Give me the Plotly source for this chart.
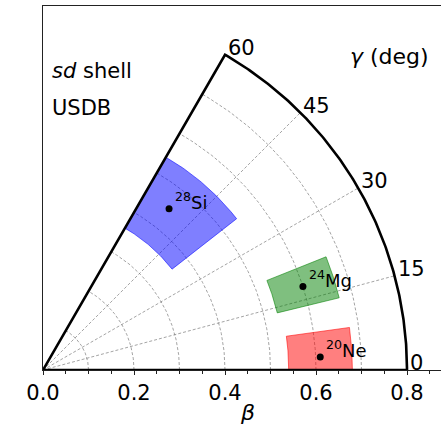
import numpy as np
import plotly.graph_objects as go

# ---- data ----
mass_numbers = ["20", "24", "28"]
symbols = ["Ne", "Mg", "Si"]
beta_mean = [0.61, 0.60, 0.45]
gamma_mean = [2.7, 17.8, 52.0]
beta_lo = [0.54, 0.53, 0.36]
beta_hi = [0.68, 0.67, 0.54]
gamma_lo = [0.0, 13.7, 38.0]
gamma_hi = [7.9, 21.8, 60.0]
region_colors = ["255,0,0", "0,128,0", "0,0,255"]

beta_grid = [0.1, 0.2, 0.3, 0.4, 0.5, 0.6, 0.7]
gamma_grid = [15, 30, 45]
gamma_ticks = [0, 15, 30, 45, 60]
beta_max = 0.8
gamma_max = 60
x_ticks = [0.0, 0.2, 0.4, 0.6, 0.8]
x_ticktext = ["0.0", "0.2", "0.4", "0.6", "0.8"]

FONT = "DejaVu Sans"
W, H = 441, 429
ML, MR, MT, MB = 43, 0, 6, 59
PW = W - ML - MR
PH = H - MT - MB
scale = PH / 0.8  # px per unit
x_max = PW / scale


def xy(b, g):
    g = np.radians(np.asarray(g, dtype=float))
    b = np.asarray(b, dtype=float)
    return b * np.cos(g), b * np.sin(g)


fig = go.Figure()

grid_line = dict(color="rgba(120,120,120,0.85)", width=0.8, dash="3px,2px")
# grid arcs
for r in beta_grid:
    gs = np.linspace(0, gamma_max, 120)
    x, y = xy(np.full_like(gs, r), gs)
    fig.add_trace(go.Scatter(x=x, y=y, mode="lines", line=grid_line, hoverinfo="skip"))
# grid radial lines
for g in gamma_grid:
    x, y = xy([0, beta_max], [g, g])
    fig.add_trace(go.Scatter(x=x, y=y, mode="lines", line=grid_line, hoverinfo="skip"))

# uncertainty regions
for i in range(len(symbols)):
    g1 = np.linspace(gamma_lo[i], gamma_hi[i], 40)
    g2 = g1[::-1]
    bs = np.concatenate([np.full_like(g1, beta_lo[i]), np.full_like(g2, beta_hi[i]), [beta_lo[i]]])
    gs = np.concatenate([g1, g2, [gamma_lo[i]]])
    x, y = xy(bs, gs)
    c = region_colors[i]
    fig.add_trace(go.Scatter(x=x, y=y, mode="lines", fill="toself",
                             fillcolor=f"rgba({c},0.5)",
                             line=dict(color=f"rgba({c},0.55)", width=1),
                             hoverinfo="skip"))

# sector boundary
gs = np.linspace(0, gamma_max, 200)
bx, by = xy(np.full_like(gs, beta_max), gs)
x0, y0 = xy([0, beta_max], [0, 0])
x6, y6 = xy([beta_max, 0], [gamma_max, gamma_max])
fig.add_trace(go.Scatter(x=np.concatenate([x0, bx, x6]), y=np.concatenate([y0, by, y6]),
                         mode="lines", line=dict(color="black", width=2.6), hoverinfo="skip"))

# mean points
px_, py_ = xy(beta_mean, gamma_mean)
fig.add_trace(go.Scatter(x=px_, y=py_, mode="markers",
                         marker=dict(color="black", size=7), hoverinfo="skip"))

annotations = []
# isotope labels
for i in range(len(symbols)):
    annotations.append(dict(x=px_[i], y=py_[i], xref="x", yref="y",
                            text=f"<sup>{mass_numbers[i]}</sup>{symbols[i]}",
                            showarrow=False, xanchor="left", yanchor="bottom",
                            xshift=4, yshift=-6,
                            font=dict(family=FONT, size=18, color="black")))
# gamma tick labels
for g in gamma_ticks:
    tx, ty = xy(beta_max, g)
    annotations.append(dict(x=float(tx), y=float(ty), xref="x", yref="y", text=str(g),
                            showarrow=False, xanchor="left", yanchor="bottom",
                            xshift=1, yshift=-7,
                            font=dict(family=FONT, size=21, color="black")))


def paper(pxx, pyy):
    return (pxx - ML) / PW, (H - MB - pyy) / PH


for txt, pxx, base, sz in [("<i>sd</i> shell", 51, 79, 21), ("USDB", 51, 116, 21),
                           ("<i>γ</i> (deg)", 349, 65, 22)]:
    X, Y = paper(pxx, base + 6)
    annotations.append(dict(x=X, y=Y, xref="paper", yref="paper", text=txt,
                            showarrow=False, xanchor="left", yanchor="bottom",
                            xshift=-1, font=dict(family=FONT, size=sz, color="black")))
X, Y = paper(248, 421 + 6)
annotations.append(dict(x=X, y=Y, xref="paper", yref="paper", text="<i>β</i>",
                        showarrow=False, xanchor="center", yanchor="bottom",
                        font=dict(family=FONT, size=22, color="black")))

fig.update_layout(
    width=W, height=H,
    margin=dict(l=ML, r=MR, t=MT, b=MB, pad=0),
    paper_bgcolor="white", plot_bgcolor="white",
    showlegend=False,
    annotations=annotations,
    font=dict(family=FONT, size=21, color="black"),
)
fig.update_xaxes(range=[0, x_max], showgrid=False, zeroline=False,
                 showline=True, linecolor="#222", linewidth=1, mirror=True,
                 ticks="outside", ticklen=4, tickwidth=1, tickcolor="#222",
                 tickvals=x_ticks, ticktext=x_ticktext,
                 tickfont=dict(family=FONT, size=21, color="black"),
                 minor=dict(ticks="outside", ticklen=3, tickwidth=1, tickcolor="#222",
                            dtick=0.05, tick0=0, showgrid=False),
                 automargin=False, fixedrange=True)
fig.update_yaxes(range=[0, 0.8], showgrid=False, zeroline=False,
                 showline=True, linecolor="#222", linewidth=1, mirror=False,
                 ticks="", showticklabels=False, automargin=False, fixedrange=True)

fig.write_html("out.html")
